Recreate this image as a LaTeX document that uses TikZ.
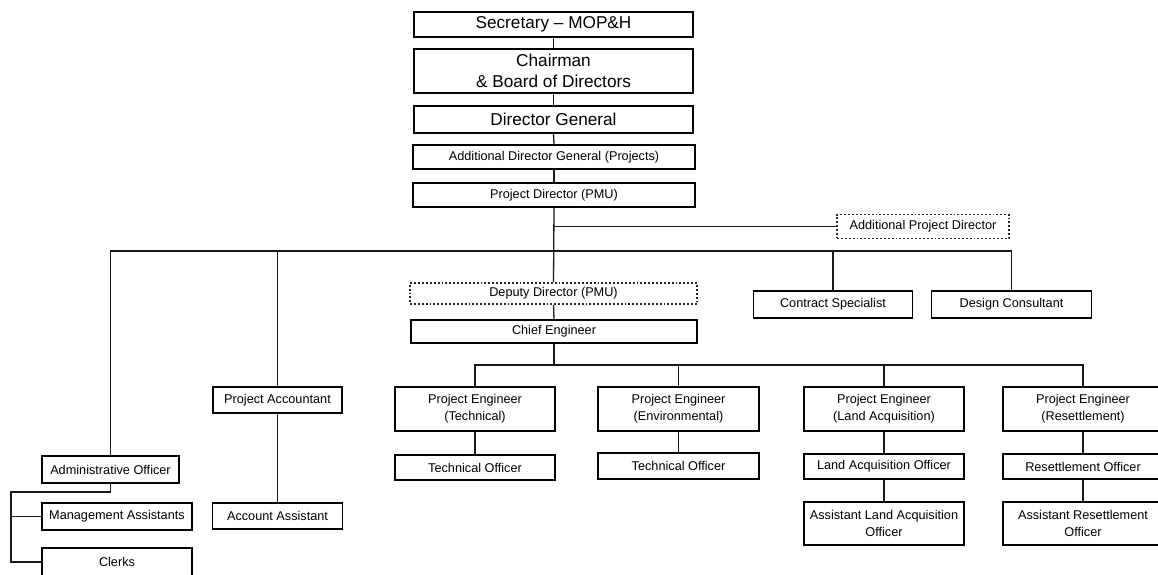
\documentclass[tikz,border=0pt]{standalone}
\usepackage{fontspec}
\setmainfont{Liberation Sans}
\begin{document}
\begin{tikzpicture}[x=1pt,y=-1pt,
  box/.style={draw=black, line width=1.8pt, inner sep=0pt, align=center, fill=white,
    font=\fontsize{12.7}{17}\selectfont, text=black},
  bigbox/.style={box, font=\fontsize{17.2}{21.5}\selectfont},
  dbox/.style={box, draw=black!85, line width=1.9pt, dotted},
  conn/.style={draw=black!90, line width=1.3pt}]
\useasboundingbox (0,0) rectangle (1158,574);
\fill[white] (0,0) rectangle (1158,574);
% top chain
\node[bigbox, minimum width=279pt, minimum height=25pt] (sec) at (553.5,24.5) {Secretary -- MOP\&H};
\node[bigbox, minimum width=279pt, minimum height=44pt] (chair) at (553.5,71) {Chairman\\\& Board of Directors};
\node[bigbox, minimum width=279pt, minimum height=27pt] (dg) at (553.5,119.5) {Director General};
\node[box, minimum width=282pt, minimum height=24pt] (adg) at (554,157) {Additional Director General (Projects)};
\node[box, minimum width=282pt, minimum height=24pt] (pd) at (554,195) {Project Director (PMU)};
\node[dbox, minimum width=172pt, minimum height=24pt] (apd) at (923,226.5) {Additional Project Director};
\node[dbox, minimum width=287pt, minimum height=21pt] (dd) at (553.5,293.5) {Deputy Director (PMU)};
\node[box, minimum width=286pt, minimum height=23pt] (ce) at (554,331.5) {Chief Engineer};
\node[box, minimum width=159pt, minimum height=27pt] (cs) at (833,304.5) {Contract Specialist};
\node[box, minimum width=160pt, minimum height=27pt] (dc) at (1011.5,304.5) {Design Consultant};
% left branches
\node[box, minimum width=129pt, minimum height=26pt] (pa) at (277.5,400) {Project Accountant};
\node[box, minimum width=130pt, minimum height=26pt] (aa) at (277.5,516) {Account Assistant};
\node[box, minimum width=137pt, minimum height=27pt] (ao) at (110.5,469.5) {Administrative Officer};
\node[box, minimum width=150pt, minimum height=27pt] (ma) at (117,516.5) {Management Assistants};
\node[box, minimum width=150pt, minimum height=28pt] (cl) at (117,562) {Clerks};
% project engineers
\node[box, minimum width=160pt, minimum height=44pt] (pet) at (475,409) {Project Engineer\\(Technical)};
\node[box, minimum width=160pt, minimum height=25pt] (to1) at (475,467.5) {Technical Officer};
\node[box, minimum width=161pt, minimum height=44pt] (pee) at (678.5,409) {Project Engineer\\(Environmental)};
\node[box, minimum width=161pt, minimum height=26pt] (to2) at (678.5,466) {Technical Officer};
\node[box, minimum width=160pt, minimum height=44pt] (pel) at (884,409) {Project Engineer\\(Land Acquisition)};
\node[box, minimum width=160pt, minimum height=25pt] (lao) at (884,466.5) {Land Acquisition Officer};
\node[box, minimum width=160pt, minimum height=43pt] (alao) at (884,523.5) {Assistant Land Acquisition\\Officer};
\node[box, minimum width=160pt, minimum height=44pt] (per) at (1083,409) {Project Engineer\\(Resettlement)};
\node[box, minimum width=160pt, minimum height=25pt] (ro) at (1083,466.5) {Resettlement Officer};
\node[box, minimum width=160pt, minimum height=43pt] (aro) at (1083,523.5) {Assistant Resettlement\\Officer};
% coordinates
\coordinate (bus) at (0,251);
\coordinate (apdj) at (0,226.5);
\coordinate (bus2) at (0,365);
\coordinate (bk) at (11,492);
% connectors
\draw[conn] (sec.south) -- (chair.north);
\draw[conn] (chair.south) -- (dg.north);
\draw[conn] (dg.south) -- (adg.north);
\draw[conn] (adg.south) -- (pd.north);
\draw[conn] (pd.south) -- (dd.north);
\draw[conn] (pd.south |- apdj) -- (apd.west);
\draw[conn] (ao.north) -- (ao.north |- bus) -- (dc.north |- bus) -- (dc.north);
\draw[conn] (pa.north |- bus) -- (pa.north);
\draw[conn] (cs.north |- bus) -- (cs.north);
\draw[conn] (dd.south) -- (ce.north);
\draw[conn] (ce.south) -- (ce.south |- bus2);
\draw[conn] (pet.north) -- (pet.north |- bus2) -- (per.north |- bus2) -- (per.north);
\draw[conn] (pee.north |- bus2) -- (pee.north);
\draw[conn] (pel.north |- bus2) -- (pel.north);
\draw[conn] (pet.south) -- (to1.north);
\draw[conn] (pee.south) -- (to2.north);
\draw[conn] (pel.south) -- (lao.north);
\draw[conn] (lao.south) -- (alao.north);
\draw[conn] (per.south) -- (ro.north);
\draw[conn] (ro.south) -- (aro.north);
\draw[conn] (pa.south) -- (aa.north);
\draw[conn] (ao.south) -- (ao.south |- bk) -- (bk) |- (cl.west);
\draw[conn] (bk |- ma.west) -- (ma.west);
\end{tikzpicture}
\end{document}
